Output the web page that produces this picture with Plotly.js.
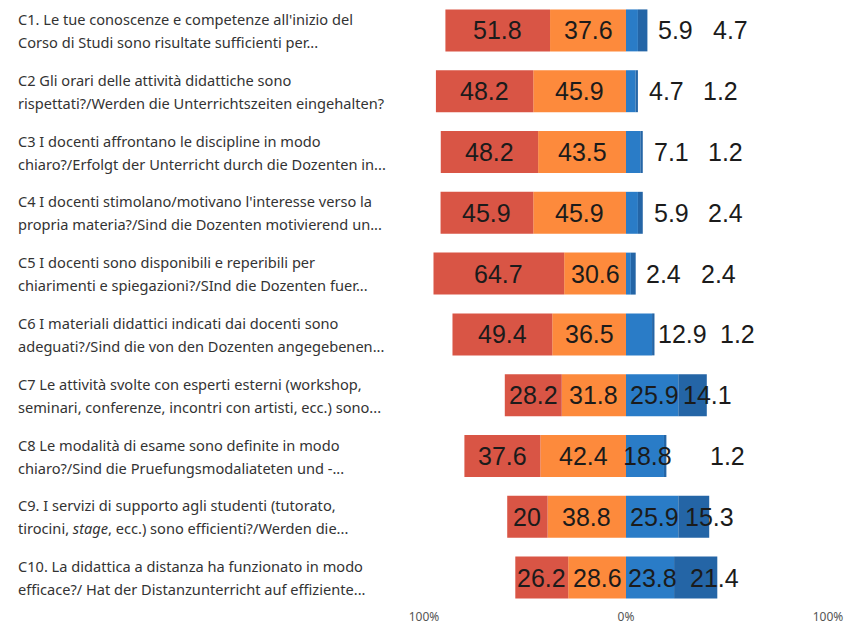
<!DOCTYPE html>
<html>
<head>
<meta charset="utf-8">
<script src="https://cdn.plot.ly/plotly-3.0.1.min.js"></script>
<style>html,body{margin:0;padding:0;background:#fff;}#chart{width:846px;height:627px;}</style>
</head>
<body>
<div id="chart"></div>
<script>
const categories = ['C1','C2','C3','C4','C5','C6','C7','C8','C9','C10'];
const labelLine1 = [
  "C1. Le tue conoscenze e competenze all'inizio del",
  "C2 Gli orari delle attività didattiche sono",
  "C3 I docenti affrontano le discipline in modo",
  "C4 I docenti stimolano/motivano l'interesse verso la",
  "C5 I docenti sono disponibili e reperibili per",
  "C6 I materiali didattici indicati dai docenti sono",
  "C7 Le attività svolte con esperti esterni (workshop,",
  "C8 Le modalità di esame sono definite in modo",
  "C9. I servizi di supporto agli studenti (tutorato,",
  "C10. La didattica a distanza ha funzionato in modo"
];
const labelLine2 = [
  "Corso di Studi sono risultate sufficienti per...",
  "rispettati?/Werden die Unterrichtszeiten eingehalten?",
  "chiaro?/Erfolgt der Unterricht durch die Dozenten in...",
  "propria materia?/Sind die Dozenten motivierend un...",
  "chiarimenti e spiegazioni?/SInd die Dozenten fuer...",
  "adeguati?/Sind die von den Dozenten angegebenen...",
  "seminari, conferenze, incontri con artisti, ecc.) sono...",
  "chiaro?/Sind die Pruefungsmodaliateten und -...",
  "tirocini, <i>stage</i>, ecc.) sono efficienti?/Werden die...",
  "efficace?/ Hat der Distanzunterricht auf effiziente..."
];
const red      = [51.8, 48.2, 48.2, 45.9, 64.7, 49.4, 28.2, 37.6, 20.0, 26.2];
const orange   = [37.6, 45.9, 43.5, 45.9, 30.6, 36.5, 31.8, 42.4, 38.8, 28.6];
const blue     = [5.9, 4.7, 7.1, 5.9, 2.4, 12.9, 25.9, 18.8, 25.9, 23.8];
const darkBlue = [4.7, 1.2, 1.2, 2.4, 2.4, 1.2, 14.1, 1.2, 15.3, 21.4];
const xTickVals = [-100, 0, 100];
const xTickText = ['100%', '0%', '100%'];

const COLORS = {red:'#D95545', orange:'#FD8A3C', blue:'#2A7CC7', dark:'#2465A6'};
const barW = 0.69;

const traces = [
  {type:'bar', orientation:'h', y:categories, x:orange.map(v=>-v), marker:{color:COLORS.orange}, width:barW, hoverinfo:'skip'},
  {type:'bar', orientation:'h', y:categories, x:red.map(v=>-v), marker:{color:COLORS.red}, width:barW, hoverinfo:'skip'},
  {type:'bar', orientation:'h', y:categories, x:blue, marker:{color:COLORS.blue}, width:barW, hoverinfo:'skip'},
  {type:'bar', orientation:'h', y:categories, x:darkBlue, marker:{color:COLORS.dark}, width:barW, hoverinfo:'skip'}
];

const fmt = v => (Math.round(v*10)/10).toString();
const annotations = [];
const labelFont = {family:'Noto Sans, Open Sans, sans-serif', size:14.6, color:'#333'};
const numFont = {family:'Liberation Sans, Arial, sans-serif', size:25, color:'#1b1b1b'};

categories.forEach((c, i) => {
  annotations.push({xref:'paper', yref:'y', x:-1.01, y:c, xanchor:'left', yanchor:'middle', yshift:11.5, text:labelLine1[i], showarrow:false, font:labelFont, align:'left'});
  annotations.push({xref:'paper', yref:'y', x:-1.01, y:c, xanchor:'left', yanchor:'middle', yshift:-11.5, text:labelLine2[i], showarrow:false, font:labelFont, align:'left'});
  // handwritten-style values
  annotations.push({xref:'x', yref:'y', x:-(orange[i] + red[i]/2), y:c, text:fmt(red[i]), showarrow:false, font:numFont, xanchor:'center'});
  annotations.push({xref:'x', yref:'y', x:-(orange[i]/2), y:c, text:fmt(orange[i]), showarrow:false, font:numFont, xanchor:'center'});
  const tot = blue[i] + darkBlue[i];
  let lx, dx;
  if (blue[i] >= 15) {
    lx = blue[i]/2 + 1;
  } else {
    lx = tot + 14;
  }
  if (darkBlue[i] < 5) {
    dx = Math.max(lx + 27, tot + 30);
  } else {
    dx = blue[i] + darkBlue[i]*0.75 + 4;
  }
  annotations.push({xref:'x', yref:'y', x:lx, y:c, text:fmt(blue[i]), showarrow:false, font:numFont, xanchor:'center'});
  annotations.push({xref:'x', yref:'y', x:dx, y:c, text:fmt(darkBlue[i]), showarrow:false, font:numFont, xanchor:'center'});
});

const layout = {
  width:846, height:627,
  margin:{l:424, r:18, t:0, b:19, pad:0},
  paper_bgcolor:'#fff', plot_bgcolor:'#fff',
  barmode:'relative',
  showlegend:false,
  xaxis:{range:[-100,100], tickvals:xTickVals, ticktext:xTickText, showgrid:false, zeroline:false, showline:false, ticks:'', tickfont:{family:'Noto Sans, sans-serif', size:12, color:'#555'}, fixedrange:true},
  yaxis:{type:'category', categoryorder:'array', categoryarray:categories, autorange:'reversed', showticklabels:false, showgrid:false, zeroline:false, ticks:'', fixedrange:true},
  annotations:annotations
};

Plotly.newPlot('chart', traces, layout, {displayModeBar:false, staticPlot:true});
</script>
</body>
</html>
